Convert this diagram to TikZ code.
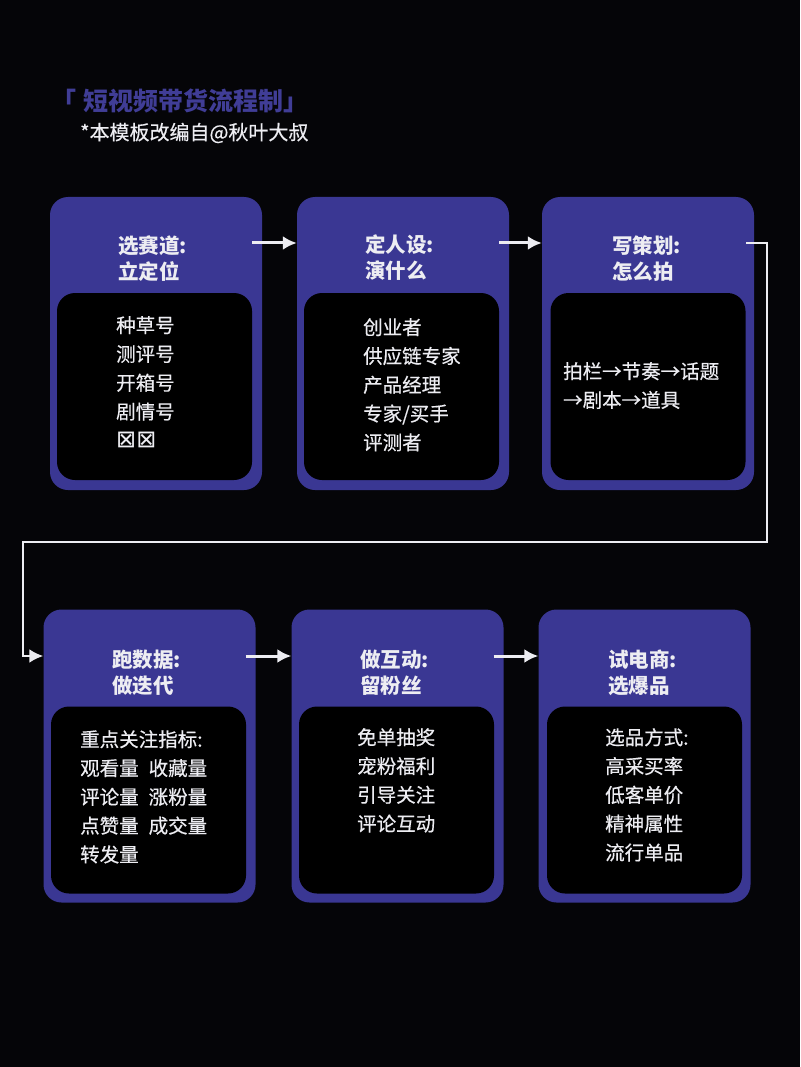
\documentclass[tikz,border=0pt]{standalone}
\usepackage{fontspec}
\setmainfont{Noto Sans CJK SC}
\newfontfamily\itemfont[FakeBold = 0.5]{Noto Sans CJK SC}
\newfontfamily\symfont{DejaVu Sans}
\usetikzlibrary{arrows.meta}

\definecolor{bg}{HTML}{050508}
\definecolor{cardblue}{HTML}{3A3793}
\definecolor{headblue}{HTML}{403D96}
\definecolor{ink}{HTML}{EDEDF2}

\tikzset{
	card/.style = {fill = cardblue, rounded corners = 18pt, minimum width = 212pt, minimum height = 293pt, inner sep = 0pt},
	pane/.style = {fill = black, rounded corners = 18pt, minimum width = 195pt, minimum height = 187pt, inner sep = 0pt},
	head/.style = {text = ink, font = \bfseries\fontsize{20.5}{26}\selectfont, align = left, anchor = north west, inner sep = 0pt},
	items/.style = {text = ink, font = \itemfont\fontsize{19.5}{28.8}\selectfont, align = left, anchor = north west, inner sep = 0pt},
	flow/.style = {->, draw = ink, line width = 3pt},
}

\begin{document}
\begin{tikzpicture}[x = 1pt, y = -1pt, > = {Latex[length = 14pt, width = 14pt]}]
	
	% Background and page size
	
	\fill [bg] (0, 0) rectangle (800, 1067);
	\useasboundingbox (0, 0) rectangle (800, 1067);
	
	% Heading
	
	\node [anchor = west, inner sep = 0pt, text = headblue, font = \bfseries\fontsize{25}{29}\selectfont] (heading) at (51, 101) {「\hspace{7pt}短视频带货流程制」};
	\node [anchor = west, inner sep = 0pt, text = ink, font = \itemfont\fontsize{20}{24}\selectfont] (credit) at (80, 133) {*本模板改编自@秋叶大叔};
	
	% First row of cards
	
	\node [card] (c1) at (156, 343.5) {};
	\node [pane] (p1) at (154.5, 386.5) {};
	\node [head] (t1) at (118, 235) {选赛道:\\立定位};
	\node [items] (l1) at (116, 316) {种草号\\测评号\\开箱号\\剧情号\\{\symfont\fontsize{24}{28.8}\selectfont ⊠⊠}};
	
	\node [card] (c2) at (403, 343.5) {};
	\node [pane] (p2) at (401.5, 386.5) {};
	\node [head] (t2) at (365, 235) {定人设:\\演什么};
	\node [items] (l2) at (363, 318) {创业者\\供应链专家\\产品经理\\专家/买手\\评测者};
	
	\node [card] (c3) at (648, 343.5) {};
	\node [pane] (p3) at (648, 386.5) {};
	\node [head] (t3) at (612, 236) {写策划:\\怎么拍};
	\node [items] (l3) at (563, 362) {拍栏→节奏→话题\\→剧本→道具};
	
	% Second row of cards
	
	\node [card] (c4) at (149.5, 756) {};
	\node [pane] (p4) at (148.5, 800) {};
	\node [head] (t4) at (112, 650) {跑数据:\\做迭代};
	\node [items] (l4) at (80, 730) {重点关注指标:\\观看量\hspace{10pt}收藏量\\评论量\hspace{10pt}涨粉量\\点赞量\hspace{10pt}成交量\\转发量};
	
	\node [card] (c5) at (397.5, 756) {};
	\node [pane] (p5) at (396.5, 800) {};
	\node [head] (t5) at (360, 650) {做互动:\\留粉丝};
	\node [items] (l5) at (357, 728) {免单抽奖\\宠粉福利\\引导关注\\评论互动};
	
	\node [card] (c6) at (644.5, 756) {};
	\node [pane] (p6) at (644.5, 800) {};
	\node [head] (t6) at (608, 650) {试电商:\\选爆品};
	\node [items] (l6) at (605, 728) {选品方式:\\高采买率\\低客单价\\精神属性\\流行单品};
	
	% Connectors between the steps
	
	\coordinate (row1) at (0, 243);
	\coordinate (row2) at (0, 656);
	\coordinate (loopR) at (767, 542);
	\coordinate (loopL) at (23, 542);
	
	\begin{scope}[flow]
	
		\draw ([xshift = -10pt] c1.east |- row1) -- (c2.west |- row1);
		\draw ([xshift = -10pt] c2.east |- row1) -- (c3.west |- row1);
		\draw [line width = 2.5pt] ([xshift = -8pt] c3.east |- row1) -| (loopR) -| (loopL) |- (c4.west |- row2);
		\draw ([xshift = -10pt] c4.east |- row2) -- (c5.west |- row2);
		\draw ([xshift = -10pt] c5.east |- row2) -- (c6.west |- row2);
		
	\end{scope}

\end{tikzpicture}
\end{document}
